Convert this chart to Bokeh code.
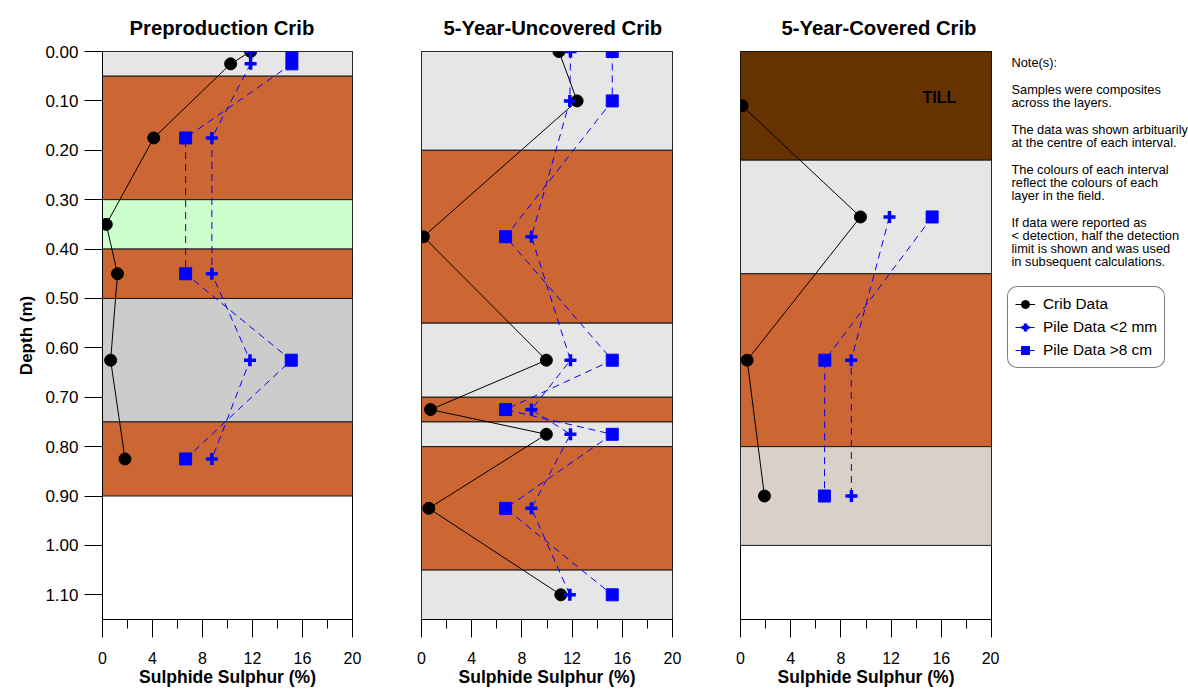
from bokeh.plotting import figure
from bokeh.models import (Range1d, FixedTicker, NumeralTickFormatter, Legend, LegendItem,
                          ColumnDataSource)
from bokeh.layouts import row
from bokeh.embed import file_html
from bokeh.resources import INLINE
from bokeh.core.properties import value

FONT = "Liberation Sans"

# ---------------- data ----------------
panel_titles = ["Preproduction Crib", "5-Year-Uncovered Crib", "5-Year-Covered Crib"]
x_major_ticks = [0, 4, 8, 12, 16, 20]
x_minor_ticks = [2, 6, 10, 14, 18]
y_ticks = [0.0, 0.1, 0.2, 0.3, 0.4, 0.5, 0.6, 0.7, 0.8, 0.9, 1.0, 1.1]
x_label = "Sulphide Sulphur (%)"
y_label = "Depth (m)"

LIGHT = "#e6e6e6"
ORANGE = "#cc6633"
GREEN = "#ccffcc"
GREY = "#cccccc"
TILL = "#663300"
STIPPLE = "#dcd4cc"

# layers (top depth, bottom depth, colour)
p1_layer_top = [0.00, 0.05, 0.30, 0.40, 0.50, 0.75]
p1_layer_bottom = [0.05, 0.30, 0.40, 0.50, 0.75, 0.90]
p1_layer_color = [LIGHT, ORANGE, GREEN, ORANGE, GREY, ORANGE]

p2_layer_top = [0.00, 0.20, 0.55, 0.70, 0.75, 0.80, 1.05]
p2_layer_bottom = [0.20, 0.55, 0.70, 0.75, 0.80, 1.05, 1.15]
p2_layer_color = [LIGHT, ORANGE, LIGHT, ORANGE, LIGHT, ORANGE, LIGHT]

p3_layer_top = [0.00, 0.22, 0.45, 0.80]
p3_layer_bottom = [0.22, 0.45, 0.80, 1.00]
p3_layer_color = [TILL, LIGHT, ORANGE, STIPPLE]
p3_layer_hatch = [" ", " ", " ", "."]

# Preproduction crib
p1_crib_depth = [0.00, 0.025, 0.175, 0.35, 0.45, 0.625, 0.825]
p1_crib = [11.85, 10.25, 4.1, 0.3, 1.2, 0.65, 1.8]
p1_pile_depth = [0.00, 0.025, 0.175, 0.45, 0.625, 0.825]
p1_fine = [11.85, 11.85, 8.75, 8.75, 11.8, 8.75]
p1_coarse = [15.15, 15.15, 6.65, 6.65, 15.1, 6.65]

# 5-year uncovered crib
p2_crib_depth = [0.00, 0.10, 0.375, 0.625, 0.725, 0.775, 0.925, 1.10]
p2_crib = [10.95, 12.4, 0.15, 9.95, 0.72, 9.95, 0.58, 11.1]
p2_pile_depth = [0.00, 0.10, 0.375, 0.625, 0.725, 0.775, 0.925, 1.10]
p2_fine = [11.87, 11.82, 8.76, 11.87, 8.76, 11.87, 8.76, 11.82]
p2_coarse = [15.2, 15.2, 6.7, 15.2, 6.7, 15.2, 6.7, 15.2]

# 5-year covered crib
p3_crib_depth = [0.11, 0.335, 0.625, 0.90]
p3_crib = [0.13, 9.56, 0.53, 1.91]
p3_pile_depth = [0.335, 0.625, 0.90]
p3_fine = [11.87, 8.82, 8.84]
p3_coarse = [15.27, 6.72, 6.69]

till_label = "TILL"
till_x = 15.85
till_depth = 0.094

legend_labels = ["Crib Data", "Pile Data <2 mm", "Pile Data >8 cm"]

notes = [
    ["Note(s):"],
    ["Samples were composites", "across the layers."],
    ["The data was shown arbituarily", "at the centre of each interval."],
    ["The colours of each interval", "reflect the colours of each", "layer in the field."],
    ["If data were reported as", "< detection, half the detection",
     "limit is shown and was used", "in subsequent calculations."],
]

# ---------------- layout constants ----------------
FIG_H = 689
TOP = 51
FRAME_H = 568
BOTTOM = FIG_H - TOP - FRAME_H


def make_panel(title, title_offset, width, left, right, layers, crib_d, crib_v, pile_d,
               fine_v, coarse_v, show_y):
    p = figure(width=width, height=FIG_H, output_backend="svg", toolbar_location=None,
               x_range=Range1d(0, 20), y_range=Range1d(1.15, 0),
               min_border_left=left, min_border_right=right,
               min_border_top=TOP, min_border_bottom=BOTTOM,
               background_fill_color="white", border_fill_color="white")
    p.grid.visible = False
    p.outline_line_color = "black"
    p.outline_line_width = 1

    p.title.text = title
    p.title.align = "left"
    p.title.offset = title_offset
    p.title.text_font = FONT
    p.title.text_font_size = "20.3px"
    p.title.text_font_style = "bold"
    p.title.text_color = "black"
    p.title.standoff = 25

    tops, bottoms, colors = layers[:3]
    hatches = layers[3] if len(layers) > 3 else [" "] * len(tops)
    src = ColumnDataSource(dict(top=tops, bottom=bottoms, color=colors, hatch=hatches))
    p.quad(left=0, right=20, top="top", bottom="bottom", source=src,
           fill_color="color", line_color="#1a1a1a", line_width=1,
           hatch_pattern="hatch", hatch_color="#cbc2b8", hatch_scale=2.5, hatch_weight=1)

    # crib
    p.line(crib_v, crib_d, line_color="black", line_width=1)
    p.scatter(crib_v, crib_d, marker="circle", size=12, fill_color="black", line_color="black")
    # coarse pile (>8 cm)
    p.line(coarse_v, pile_d, line_color="#0000ff", line_width=1, line_dash="7 5")
    p.scatter(coarse_v, pile_d, marker="square", size=12, fill_color="#0000ff",
              line_color="#0000ff")
    # fine pile (<2 mm)
    p.line(fine_v, pile_d, line_color="#0000ff", line_width=1, line_dash="7 5")
    p.scatter(fine_v, pile_d, marker="cross", size=12, line_color="#0000ff", line_width=3.5)

    xa = p.xaxis[0]
    xa.ticker = FixedTicker(ticks=x_major_ticks, minor_ticks=x_minor_ticks)
    xa.axis_label = x_label
    xa.axis_label_text_font = FONT
    xa.axis_label_text_font_size = "17.5px"
    xa.axis_label_text_font_style = "bold"
    xa.axis_label_text_color = "black"
    xa.axis_label_standoff = 0
    xa.major_label_text_font = FONT
    xa.major_label_text_font_size = "16px"
    xa.major_label_text_color = "black"
    xa.major_label_standoff = 14
    xa.major_tick_out = 18
    xa.major_tick_in = 0
    xa.minor_tick_out = 9
    xa.minor_tick_in = 0
    xa.axis_line_color = "black"
    xa.major_tick_line_color = "black"
    xa.minor_tick_line_color = "black"

    ya = p.yaxis[0]
    if show_y:
        ya.ticker = FixedTicker(ticks=y_ticks, minor_ticks=[])
        ya.formatter = NumeralTickFormatter(format="0.00")
        ya.axis_label = y_label
        ya.axis_label_text_font = FONT
        ya.axis_label_text_font_size = "17px"
        ya.axis_label_text_font_style = "bold"
        ya.axis_label_text_color = "black"
        ya.axis_label_standoff = 6
        ya.major_label_text_font = FONT
        ya.major_label_text_font_size = "17px"
        ya.major_label_text_color = "black"
        ya.major_label_standoff = 6
        ya.major_tick_out = 18
        ya.major_tick_in = 0
        ya.minor_tick_out = 0
        ya.minor_tick_in = 0
        ya.axis_line_color = "black"
        ya.major_tick_line_color = "black"
    else:
        ya.visible = False
    return p


p1 = make_panel(panel_titles[0], 27, 386, 102, 34,
                (p1_layer_top, p1_layer_bottom, p1_layer_color),
                p1_crib_depth, p1_crib, p1_pile_depth, p1_fine, p1_coarse, True)
p2 = make_panel(panel_titles[1], 22, 320, 35, 34,
                (p2_layer_top, p2_layer_bottom, p2_layer_color),
                p2_crib_depth, p2_crib, p2_pile_depth, p2_fine, p2_coarse, False)
p3 = make_panel(panel_titles[2], 41, 293, 34, 8,
                (p3_layer_top, p3_layer_bottom, p3_layer_color, p3_layer_hatch),
                p3_crib_depth, p3_crib, p3_pile_depth, p3_fine, p3_coarse, False)
p3.text(x=[till_x], y=[till_depth], text=[till_label], text_font=value(FONT),
        text_font_size="16px", text_font_style="bold", text_color="black",
        text_align="center", text_baseline="middle")

# ---------------- notes + legend panel ----------------
X0 = 999
W4 = 1188 - X0
p4 = figure(width=W4, height=FIG_H, output_backend="svg", toolbar_location=None,
            title=None,
            x_range=Range1d(X0, X0 + W4), y_range=Range1d(TOP + FRAME_H, TOP),
            x_axis_type=None, y_axis_type=None,
            min_border_left=0, min_border_right=0, min_border_top=TOP,
            min_border_bottom=BOTTOM,
            background_fill_color="white", border_fill_color="white")
p4.grid.visible = False
p4.outline_line_color = None

xs, ys, ts = [], [], []
yy = 61.5
for para in notes:
    for line in para:
        xs.append(1011)
        ys.append(yy)
        ts.append(line)
        yy += 13
    yy += 14
p4.text(x=xs, y=ys, text=ts, text_font=value(FONT), text_font_size="12.8px",
        text_color="black", text_align="left", text_baseline="middle")

nan = float("nan")
dummy = ColumnDataSource(dict(x=[nan], y=[nan]))
l1 = p4.line("x", "y", source=dummy, line_color="black", line_width=1)
m1 = p4.scatter("x", "y", source=dummy, marker="circle", size=12, fill_color="black",
                line_color="black")
l2 = p4.line("x", "y", source=dummy, line_color="#0000ff", line_width=1, line_dash="7 5")
m2 = p4.scatter("x", "y", source=dummy, marker="cross", size=12, line_color="#0000ff",
                line_width=3.5)
l3 = p4.line("x", "y", source=dummy, line_color="#0000ff", line_width=1, line_dash="7 5")
m3 = p4.scatter("x", "y", source=dummy, marker="square", size=12, fill_color="#0000ff",
                line_color="#0000ff")

legend = Legend(items=[LegendItem(label=legend_labels[0], renderers=[l1, m1]),
                       LegendItem(label=legend_labels[1], renderers=[l2, m2]),
                       LegendItem(label=legend_labels[2], renderers=[l3, m3])],
                location=(8, TOP + FRAME_H - 368), orientation="vertical",
                label_text_font=FONT, label_text_font_size="15.4px", label_text_color="black",
                glyph_width=20, glyph_height=20, label_height=20, spacing=3,
                padding=7, margin=0, label_standoff=8,
                border_line_color="black", border_line_width=1,
                background_fill_color="white", background_fill_alpha=1)
if "border_radius" in Legend.properties():
    legend.border_radius = 10
p4.add_layout(legend, "center")

layout = row(p1, p2, p3, p4)
open("out.html", "w").write(file_html(layout, INLINE))
